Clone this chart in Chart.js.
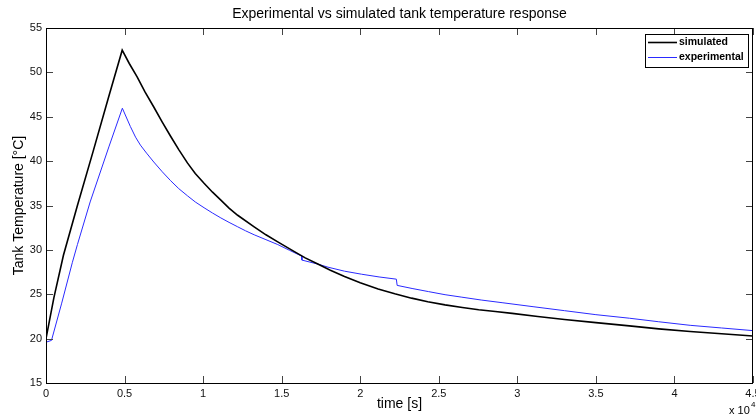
<!DOCTYPE html>
<html>
<head>
<meta charset="utf-8">
<script src="https://cdn.jsdelivr.net/npm/chart.js@4.4.1/dist/chart.umd.min.js"></script>
<style>
  html, body { margin: 0; padding: 0; background: #fff; }
  #wrap { width: 756px; height: 420px; }
</style>
</head>
<body>
<div id="wrap"><canvas id="c" width="756" height="420"></canvas></div>
<script>
// ---- Data (time in seconds, temperature in °C) ----
const titleText = 'Experimental vs simulated tank temperature response';
const xTitle = 'time [s]';
const yTitle = 'Tank Temperature [°C]';
const seriesNames = ['simulated', 'experimental'];

const simTime = [0, 500, 1110, 2000, 3000, 4000, 4850, 5300, 5800, 6300, 6860, 7400, 7930, 8450, 9000, 9500, 10060, 10600, 11130, 11650, 12200, 13250, 14000, 14750, 15810, 16500, 17300, 18100, 19000, 20000, 21140, 22200, 23270, 24300, 25400, 26500, 27540, 28600, 29670, 31300, 33000, 35000, 37130, 39000, 41000, 43000, 45000];
const simTemp = [20.0, 24.6, 29.4, 35.0, 41.1, 47.3, 52.5, 51.0, 49.5, 47.8, 46.1, 44.4, 42.8, 41.3, 39.8, 38.6, 37.5, 36.5, 35.6, 34.7, 33.9, 32.6, 31.7, 30.9, 29.8, 29.1, 28.4, 27.7, 27.0, 26.3, 25.6, 25.05, 24.56, 24.15, 23.8, 23.5, 23.25, 23.05, 22.85, 22.5, 22.15, 21.8, 21.44, 21.1, 20.8, 20.55, 20.3];

const expTime = [0, 350, 1000, 1680, 2000, 2810, 4000, 4860, 5370, 5700, 6010, 6400, 6860, 7400, 7930, 8450, 9000, 9500, 10060, 10600, 11130, 11650, 12200, 12700, 13250, 14000, 14750, 15500, 16270, 16290, 17300, 17950, 19000, 20080, 21200, 22300, 22350, 23300, 24340, 25400, 26470, 27700, 29030, 31000, 33000, 35000, 37130, 39000, 41000, 43000, 45000];
const expTemp = [19.6, 19.8, 24.0, 28.6, 30.6, 35.4, 41.6, 45.96, 43.9, 42.7, 41.8, 40.9, 39.9, 38.8, 37.8, 36.9, 36.1, 35.4, 34.75, 34.15, 33.6, 33.1, 32.6, 32.15, 31.7, 31.15, 30.6, 29.95, 29.3, 28.85, 28.4, 28.05, 27.6, 27.26, 26.95, 26.7, 26.0, 25.65, 25.3, 24.95, 24.67, 24.35, 24.05, 23.6, 23.15, 22.7, 22.3, 21.9, 21.5, 21.2, 20.9];

const xTicksMin = 0, xTicksMax = 45000, xStep = 5000, xFactor = 10000;
const yTicksMin = 15, yTicksMax = 55, yStep = 5;
const exponentBase = 'x 10', exponentPower = '4';

const FONT = '"Liberation Sans", Arial, Helvetica, sans-serif';
const SIM_COLOR = '#000000';
const EXP_COLOR = '#2a2aff';

function toPoints(xs, ys) { return xs.map((x, i) => ({x: x, y: ys[i]})); }

const decor = {
  id: 'decor',
  afterDraw(chart) {
    const ctx = chart.ctx;
    const a = chart.chartArea;
    const xs = chart.scales.x, ys = chart.scales.y;
    ctx.save();
    // inward ticks
    ctx.strokeStyle = '#444';
    ctx.lineWidth = 1;
    const tl = 7;
    xs.ticks.forEach(t => {
      const px = Math.round(xs.getPixelForValue(t.value)) + 0.5;
      ctx.beginPath();
      ctx.moveTo(px, a.bottom); ctx.lineTo(px, a.bottom - tl);
      ctx.moveTo(px, a.top); ctx.lineTo(px, a.top + tl);
      ctx.stroke();
    });
    ys.ticks.forEach(t => {
      const py = Math.round(ys.getPixelForValue(t.value)) + 0.5;
      ctx.beginPath();
      ctx.moveTo(a.left, py); ctx.lineTo(a.left + tl, py);
      ctx.moveTo(a.right, py); ctx.lineTo(a.right - tl, py);
      ctx.stroke();
    });
    // box
    ctx.strokeStyle = '#000';
    ctx.strokeRect(Math.round(a.left) + 0.5, Math.round(a.top) + 0.5, Math.round(a.right - a.left) - 1, Math.round(a.bottom - a.top));
    // title
    ctx.fillStyle = '#000';
    ctx.font = '14px ' + FONT;
    ctx.textAlign = 'center';
    ctx.textBaseline = 'middle';
    ctx.fillText(titleText, (a.left + a.right) / 2, 14);
    // exponent label
    ctx.textAlign = 'left';
    ctx.font = '11px ' + FONT;
    ctx.fillText(exponentBase, 729, 411);
    ctx.font = '8px ' + FONT;
    ctx.fillText(exponentPower, 751, 405);
    // legend
    const lx = 645, ly = 34, lw = 103, lh = 33;
    ctx.fillStyle = '#fff';
    ctx.fillRect(lx, ly, lw, lh);
    ctx.strokeStyle = '#000';
    ctx.lineWidth = 1;
    ctx.strokeRect(lx + 0.5, ly + 0.5, lw, lh);
    ctx.font = 'bold 10.5px ' + FONT;
    ctx.textAlign = 'left';
    ctx.textBaseline = 'middle';
    chart.data.datasets.forEach((ds, i) => {
      const yy = ly + 8 + i * 15;
      ctx.strokeStyle = ds.borderColor;
      ctx.lineWidth = ds.borderWidth;
      ctx.beginPath();
      ctx.moveTo(lx + 3, yy + 0.5); ctx.lineTo(lx + 32, yy + 0.5);
      ctx.stroke();
      ctx.fillStyle = '#000';
      ctx.fillText(ds.label, lx + 34, yy);
    });
    ctx.restore();
  }
};

new Chart(document.getElementById('c'), {
  type: 'line',
  data: {
    datasets: [
      { label: seriesNames[0], data: toPoints(simTime, simTemp), borderColor: SIM_COLOR, borderWidth: 1.6, pointRadius: 0, tension: 0, fill: false },
      { label: seriesNames[1], data: toPoints(expTime, expTemp), borderColor: EXP_COLOR, borderWidth: 1, pointRadius: 0, tension: 0, fill: false }
    ]
  },
  options: {
    responsive: false,
    animation: false,
    devicePixelRatio: 1,
    layout: { padding: { top: 28, right: 3, left: 0, bottom: 0 } },
    plugins: { legend: { display: false }, title: { display: false }, tooltip: { enabled: false } },
    scales: {
      x: {
        type: 'linear', min: xTicksMin, max: xTicksMax,
        grid: { display: false, drawTicks: false },
        border: { display: false },
        ticks: { stepSize: xStep, padding: 4, color: '#111', font: { family: FONT, size: 11 },
          maxRotation: 0, autoSkip: false,
          callback: v => String(Math.round(v / xFactor * 10) / 10) },
        title: { display: true, text: xTitle, color: '#000', font: { family: FONT, size: 14 }, padding: { top: 0, bottom: 7 } },
        afterFit(s) { s.height = 37; s.paddingLeft = 0; s.paddingRight = 0; }
      },
      y: {
        min: yTicksMin, max: yTicksMax,
        grid: { display: false, drawTicks: false },
        border: { display: false },
        ticks: { stepSize: yStep, padding: 4, color: '#111', font: { family: FONT, size: 11 }, autoSkip: false },
        title: { display: true, text: yTitle, color: '#000', font: { family: FONT, size: 14 }, padding: { top: 11, bottom: 0 } },
        afterFit(s) { s.width = 46; s.paddingTop = 0; s.paddingBottom = 0; }
      }
    }
  },
  plugins: [decor]
});
</script>
</body>
</html>
